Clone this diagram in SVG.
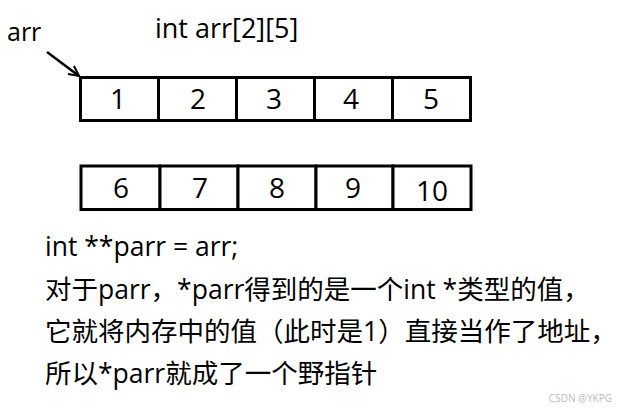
<svg xmlns="http://www.w3.org/2000/svg" width="622" height="411" viewBox="0 0 622 411">
<defs>
<style>
.t{font-family:"Open Sans","Noto Sans CJK SC",sans-serif;fill:#000}
.n{font-size:28px;text-anchor:middle}
.cell{fill:#fff;stroke:#000;stroke-width:3}
.c{font-size:26.5px}
</style>
<marker id="ah" viewBox="0 0 12 12" refX="11" refY="6" markerWidth="12" markerHeight="12" markerUnits="userSpaceOnUse" orient="auto"><path d="M1,1 L11,6 L1,11" fill="none" stroke="#000" stroke-width="2"/></marker>
</defs>
<rect width="622" height="411" fill="#fff"/>
<text class="t" x="7" y="41" font-size="25">arr</text>
<text class="t" x="155" y="38" font-size="27">int arr[2][5]</text>
<g id="connectors">
<line x1="47" y1="52" x2="79" y2="76" stroke="#000" stroke-width="2.5" marker-end="url(#ah)"/>
</g>
<g id="row1">
<rect class="cell" x="80.5" y="77.5" width="78" height="43"/>
<rect class="cell" x="158.5" y="77.5" width="78" height="43"/>
<rect class="cell" x="236.5" y="77.5" width="78" height="43"/>
<rect class="cell" x="314.5" y="77.5" width="78" height="43"/>
<rect class="cell" x="392.5" y="77.5" width="78" height="43"/>
<text class="t n" x="118" y="109">1</text>
<text class="t n" x="198" y="109">2</text>
<text class="t n" x="274" y="109">3</text>
<text class="t n" x="351" y="109">4</text>
<text class="t n" x="431" y="109">5</text>
</g>
<g id="row2">
<rect class="cell" x="81" y="166" width="79" height="43.5"/>
<rect class="cell" x="160" y="166" width="78" height="43.5"/>
<rect class="cell" x="238" y="166" width="78" height="43.5"/>
<rect class="cell" x="316" y="166" width="77" height="43.5"/>
<rect class="cell" x="393" y="166" width="78" height="43.5"/>
<text class="t n" x="121" y="198">6</text>
<text class="t n" x="200" y="198">7</text>
<text class="t n" x="277" y="198">8</text>
<text class="t n" x="353" y="198">9</text>
<text class="t n" x="432" y="201">10</text>
</g>
<g id="notes">
<text class="t c" x="45" y="256">int **parr = arr;</text>
<text class="t c" x="45" y="299">对于parr，*parr得到的是一个int *类型的值，</text>
<text class="t c" x="45" y="341">它就将内存中的值（此时是1）直接当作了地址，</text>
<text class="t c" x="45" y="383">所以*parr就成了一个野指针</text>
</g>
<text class="t" x="612" y="402" font-size="10" text-anchor="end" style="fill:#bbb">CSDN @YKPG</text>
</svg>
